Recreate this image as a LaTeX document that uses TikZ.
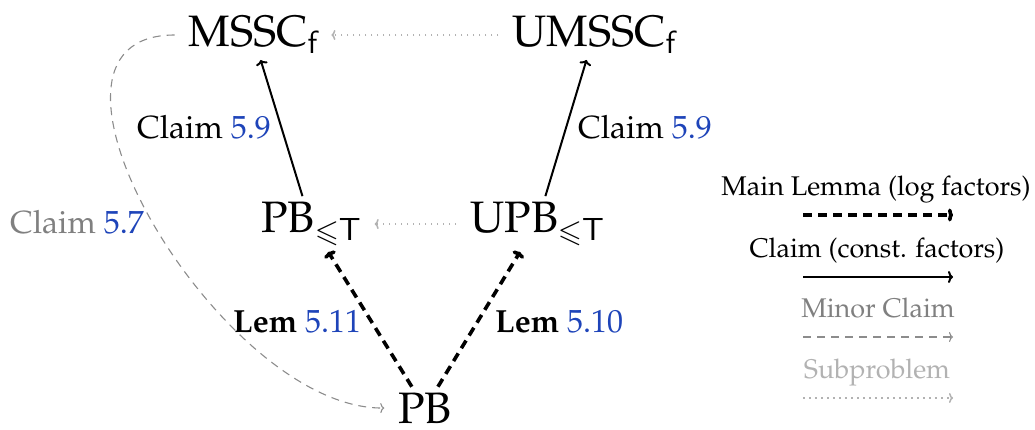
\documentclass[tikz,border=0pt]{standalone}
\usepackage[T1]{fontenc}
\usepackage{mathpazo}
\usetikzlibrary{arrows.meta}
\definecolor{refblue}{RGB}{30,68,185}
\newcommand{\rref}[1]{\textcolor{refblue}{#1}}
% freely scalable sans and AMS symbol shapes for the large subscripts
\DeclareFontFamily{OT1}{cmssbig}{}
\DeclareFontShape{OT1}{cmssbig}{m}{n}{<-> cmss10}{}
\DeclareFontFamily{U}{msabig}{}
\DeclareFontShape{U}{msabig}{m}{n}{<-> msam10}{}
\newcommand{\ssf}[1]{{\fontsize{32}{36}\usefont{OT1}{cmssbig}{m}{n}#1}}
\newcommand{\sleq}{\raisebox{-1.5pt}{\fontsize{31}{34}\usefont{U}{msabig}{m}{n}\symbol{"36}}}
\newcommand{\lowsub}[1]{\raisebox{-7.5pt}{#1}}
\tikzset{
  problem/.style={font=\fontsize{44}{52}\selectfont, inner xsep=11pt, inner ysep=3pt, outer sep=3pt},
  lbl/.style={font=\fontsize{32}{38}\selectfont, inner sep=0pt, anchor=base west},
  leg/.style={font=\fontsize{27}{32}\selectfont, inner sep=0pt, anchor=base},
  lemmaarrow/.style={line width=3.6pt, dash pattern=on 9pt off 6pt, -{To[length=5pt,width=13pt]}},
  claimarrow/.style={line width=2pt, -{To[length=5pt,width=12pt]}},
  minorarrow/.style={draw=black!45, line width=1.1pt, dash pattern=on 8pt off 6pt, -{To[length=4pt,width=10pt]}},
  subarrow/.style={draw=black!30, line width=1.5pt, dash pattern=on 1.5pt off 4.5pt, -{To[length=4pt,width=10pt]}},
}
\begin{document}
\begin{tikzpicture}[x=1pt,y=-1pt]
\useasboundingbox (0,0) rectangle (1035,429);

% problems
\node[problem] (MSSC)  at (253,35)  {MSSC\lowsub{\ssf{f}}};
\node[problem] (UMSSC) at (594,35)  {UMSSC\lowsub{\ssf{f}}};
\node[problem] (PBT)   at (311,224) {PB\lowsub{\sleq\ssf{T}}};
\node[problem] (UPBT)  at (537,224) {UPB\lowsub{\sleq\ssf{T}}};
\node[problem, inner ysep=0pt, outer ysep=6pt] (PB) at (425,408) {PB};

% reductions
\draw[claimarrow] (PBT) -- (MSSC);
\draw[claimarrow] (UPBT) -- (UMSSC);
\draw[lemmaarrow] (PB) -- (PBT);
\draw[lemmaarrow] (PB) -- (UPBT);
\draw[subarrow] (UMSSC) -- (MSSC);
\draw[subarrow] (UPBT) -- (PBT);
\draw[minorarrow] (MSSC.west) .. controls (0,35) and (220,410) .. (PB.west);

% labels
\node[lbl] (c59a) at (137,138) {Claim \rref{5.9}};
\node[lbl] (c59b) at (578,138) {Claim \rref{5.9}};
\node[lbl, text=black!50] (c57) at (10,233) {Claim \rref{5.7}};
\node[lbl] (l511) at (233,332) {\textbf{Lem} \rref{5.11}};
\node[lbl] (l510) at (495,332) {\textbf{Lem} \rref{5.10}};

% legend
\node[leg] (legA) at (876,195) {Main Lemma (log factors)};
\coordinate (a1) at (803,215); \coordinate (a2) at (953,215);
\draw[lemmaarrow] (a1) -- (a2);
\node[leg] (legB) at (877,257) {Claim (const. factors)};
\coordinate (b1) at (803,277); \coordinate (b2) at (953,277);
\draw[claimarrow] (b1) -- (b2);
\node[leg, text=black!50] (legC) at (878,317) {Minor Claim};
\coordinate (c1) at (803,337); \coordinate (c2) at (953,337);
\draw[minorarrow] (c1) -- (c2);
\node[leg, text=black!30] (legD) at (877,378) {Subproblem};
\coordinate (d1) at (803,398); \coordinate (d2) at (953,398);
\draw[subarrow] (d1) -- (d2);
\end{tikzpicture}
\end{document}
